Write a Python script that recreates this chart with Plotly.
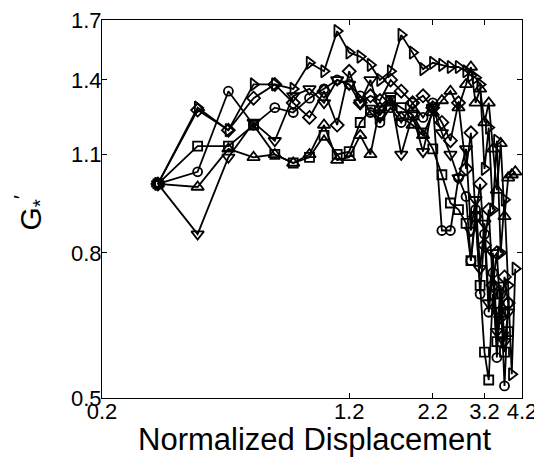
import plotly.graph_objects as go

# Normalized displacement grid (shared by all series)
disp = [0.3, 0.4, 0.5, 0.6, 0.7, 0.8, 0.9, 1.0, 1.1, 1.2, 1.3, 1.4, 1.5,
        1.62, 1.75, 1.9, 2.05, 2.2, 2.35, 2.5, 2.65, 2.8, 2.9, 3.0, 3.1,
        3.2, 3.3, 3.4, 3.5, 3.6, 3.7, 3.8, 3.9, 4.0]

g_circle = [1.0, 1.04, 1.35, 1.21, 1.28, 1.26, 1.32, 1.36, 1.40, 1.38, 1.33,
            1.26, 1.22, 1.28, 1.22, 1.30, 1.24, 1.30, 0.86, 0.86, 1.02, 0.96,
            0.78, 0.92, 0.70, 0.85, 0.66, 0.75, 0.57, 0.70, 0.52, 0.68]
g_square = [1.0, 1.13, 1.13, 1.21, 1.10, 1.07, 1.09, 1.17, 1.10, 1.11, 1.22,
            1.27, 1.25, 1.31, 1.28, 1.25, 1.18, 1.12, 1.03, 0.94, 0.92, 0.88,
            0.78, 0.90, 0.72, 0.58, 0.53, 0.70, 0.60, 0.66, 0.58, 0.62]
g_diamond = [1.0, 1.27, 1.19, 1.32, 1.38, 1.30, 1.24, 1.35, 1.21, 1.44, 1.30,
             1.33, 1.31, 1.40, 1.35, 1.30, 1.33, 1.28, 1.22, 1.15, 1.30, 1.05,
             1.18, 0.90, 1.00, 0.82, 0.92, 0.72, 0.80, 0.65, 0.74, 0.68]
g_tri_up = [1.0, 0.99, 1.12, 1.09, 1.10, 1.07, 1.10, 1.21, 1.08, 1.09, 1.17,
            1.10, 1.28, 1.30, 1.24, 1.21, 1.17, 1.26, 1.31, 1.35, 1.28, 1.38,
            1.46, 1.30, 1.36, 1.22, 1.30, 1.12, 0.98, 1.14, 0.90, 1.02, 1.03,
            1.04]
g_tri_down = [1.0, 0.85, 1.09, 1.22, 1.15, 1.33, 1.36, 1.30, 1.40, 1.38, 1.30,
              1.40, 1.25, 1.33, 1.10, 1.25, 1.11, 1.28, 1.18, 1.10, 1.02, 1.12,
              0.86, 0.95, 0.76, 0.88, 0.68, 0.80, 0.62, 0.72, 0.60, 0.66]
g_tri_right = [1.0, 1.28, 1.19, 1.38, 1.38, 1.36, 1.48, 1.44, 1.64, 1.53, 1.51,
               1.47, 1.40, 1.44, 1.62, 1.53, 1.45, 1.48, 1.47, 1.46, 1.46, 1.44,
               1.42, 1.41, 1.38, 1.05, 1.20, 0.92, 1.15, 0.80, 0.95, 0.72, 0.54,
               0.76]

x_ticks = [0.2, 1.2, 2.2, 3.2, 4.2]
y_ticks = [0.5, 0.8, 1.1, 1.4, 1.7]

series = [
    (g_circle, "circle-open", 9),
    (g_square, "square-open", 9),
    (g_diamond, "diamond-open", 10),
    (g_tri_up, "triangle-up-open", 11),
    (g_tri_down, "triangle-down-open", 11),
    (g_tri_right, "triangle-right-open", 11),
]

fig = go.Figure()
for ys, sym, sz in series:
    fig.add_trace(go.Scatter(
        x=disp[:len(ys)], y=ys, mode="lines+markers",
        line=dict(color="black", width=1.8),
        marker=dict(symbol=sym, size=sz, color="black",
                    line=dict(color="black", width=1.8)),
        showlegend=False, cliponaxis=False,
    ))

font_family = "Liberation Sans, Arial, sans-serif"
fig.update_layout(
    width=542, height=460,
    margin=dict(l=94, r=28, t=12, b=70, autoexpand=False),
    paper_bgcolor="white", plot_bgcolor="white",
    font=dict(family=font_family, color="black"),
    xaxis=dict(
        type="log", range=[-0.69897, 0.62325], automargin=False,
        tickvals=x_ticks, ticktext=[str(v) for v in x_ticks],
        ticks="inside", ticklen=5, tickcolor="black", ticklabelstandoff=-6,
        ticklabeloverflow="allow",
        showline=True, linecolor="black", linewidth=1, mirror="ticks",
        showgrid=False, zeroline=False,
        tickfont=dict(size=22),
    ),
    yaxis=dict(
        type="log", range=[-0.30103, 0.23045], automargin=False,
        tickvals=y_ticks, ticktext=[str(v) for v in y_ticks],
        ticks="inside", ticklen=5, tickcolor="black", ticklabelstandoff=-5,
        ticklabeloverflow="allow",
        showline=True, linecolor="black", linewidth=1, mirror="ticks",
        showgrid=False, zeroline=False,
        tickfont=dict(size=22),
    ),
    annotations=[
        dict(text="Normalized Displacement", xref="paper", yref="paper",
             x=0.507, y=-0.111, xanchor="center", yanchor="middle",
             showarrow=False, font=dict(size=31)),
        dict(text="G<sub>*</sub><sup>′</sup>", xref="paper", yref="paper",
             x=-0.172, y=0.49, xanchor="center", yanchor="middle",
             textangle=-90, showarrow=False, font=dict(size=30)),
    ],
)

fig.write_html("out.html")
